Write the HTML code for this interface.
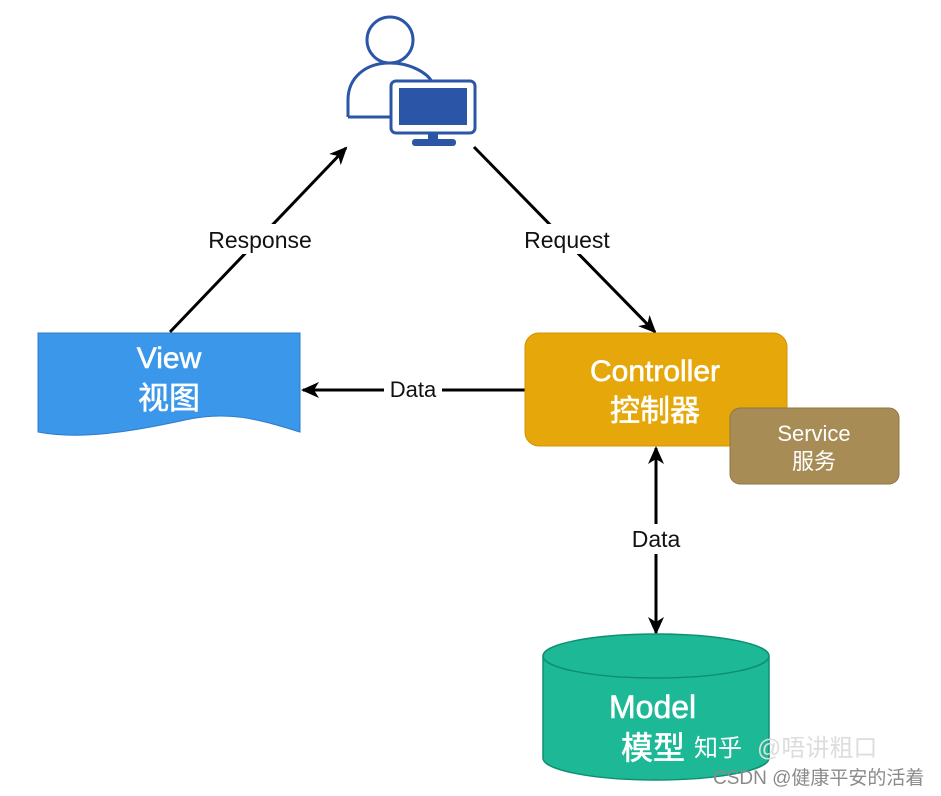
<!DOCTYPE html>
<html><head><meta charset="utf-8"><style>
html,body{margin:0;padding:0;background:#fff;}
svg{display:block}
text{font-family:"Liberation Sans","Noto Sans CJK SC",sans-serif;}
</style></head><body>
<svg width="941" height="796" viewBox="0 0 941 796" xmlns="http://www.w3.org/2000/svg">
<defs>
<marker id="b" markerWidth="18" markerHeight="18" refX="16" refY="9" orient="auto" markerUnits="userSpaceOnUse" viewBox="0 0 18 18">
<path d="M0,1 L18,9 L0,17 L5,9 z" fill="#000"/>
</marker>
</defs>
<g fill="none" stroke="#2b56a8" stroke-width="3">
<circle cx="390" cy="40" r="23"/>
<path d="M348,117 L348,100 C348,78 365,63 390,63 C412,63 428,74 432,82"/>
<line x1="348" y1="117" x2="390" y2="117"/>
</g>
<rect x="391" y="81" width="84" height="52" rx="5" fill="#fff" stroke="#2b56a8" stroke-width="3"/>
<rect x="399" y="88" width="68" height="37" fill="#2b56a8"/>
<rect x="428" y="133" width="10" height="8" fill="#2b56a8"/>
<rect x="412" y="139" width="44" height="7" rx="3" fill="#2b56a8"/>
<line x1="170" y1="332" x2="346" y2="148" stroke="#000" stroke-width="3" marker-end="url(#b)"/>
<line x1="474" y1="147" x2="655" y2="332" stroke="#000" stroke-width="3" marker-end="url(#b)"/>
<line x1="525" y1="390" x2="303" y2="390" stroke="#000" stroke-width="3" marker-end="url(#b)"/>
<line x1="656" y1="560" x2="656" y2="448" stroke="#000" stroke-width="3" marker-end="url(#b)"/>
<line x1="656" y1="520" x2="656" y2="633" stroke="#000" stroke-width="3" marker-end="url(#b)"/>
<rect x="196" y="224" width="128" height="30" fill="#fff"/>
<text x="260" y="248" font-size="23" text-anchor="middle" fill="#111">Response</text>
<rect x="512" y="224" width="110" height="30" fill="#fff"/>
<text x="567" y="248" font-size="23" text-anchor="middle" fill="#111">Request</text>
<rect x="384" y="377" width="58" height="26" fill="#fff"/>
<text x="413" y="397" font-size="22" text-anchor="middle" fill="#111">Data</text>
<rect x="622" y="524" width="68" height="30" fill="#fff"/>
<text x="656" y="547" font-size="23" text-anchor="middle" fill="#111">Data</text>
<path d="M38,333 L300,333 L300,432 C260,420 230,410 185,420 C130,432 80,440 38,432 Z" fill="#3b97ea" stroke="#2b7ccc" stroke-width="1"/>
<text x="169" y="368" font-size="30" text-anchor="middle" fill="#fff" stroke="#fff" stroke-width="0.6">View</text>
<text x="169" y="409" font-size="31" text-anchor="middle" fill="#fff" stroke="#fff" stroke-width="0.6">视图</text>
<rect x="525" y="333" width="262" height="113" rx="14" fill="#e6a70a" stroke="#d09500" stroke-width="1"/>
<text x="655" y="381" font-size="30" text-anchor="middle" fill="#fff" stroke="#fff" stroke-width="0.6">Controller</text>
<text x="655" y="421" font-size="30" text-anchor="middle" fill="#fff" stroke="#fff" stroke-width="0.6">控制器</text>
<rect x="730" y="408" width="169" height="76" rx="10" fill="#a88c56" stroke="#8f7545" stroke-width="1"/>
<text x="814" y="441" font-size="22" text-anchor="middle" fill="#fff">Service</text>
<text x="814" y="469" font-size="22" text-anchor="middle" fill="#fff">服务</text>
<path d="M543,656 L543,758 A113,22 0 0 0 769,758 L769,656" fill="#1db996" stroke="#0f8f72" stroke-width="1.5"/>
<ellipse cx="656" cy="656" rx="113" ry="22" fill="#1db996" stroke="#0f8f72" stroke-width="1.5"/>
<text x="609" y="718" font-size="32" fill="#fff" stroke="#fff" stroke-width="0.6">Model</text>
<text x="621" y="759" font-size="32" fill="#fff" stroke="#fff" stroke-width="0.6">模型</text>
<text x="694" y="756" font-size="24" fill="#fff">知乎</text>
<text x="757" y="756" font-size="24" fill="#ddd">@唔讲粗口</text>
<text x="713" y="784" font-size="19" fill="#8a8a8a">CSDN @健康平安的活着</text>
</svg>
</body></html>
